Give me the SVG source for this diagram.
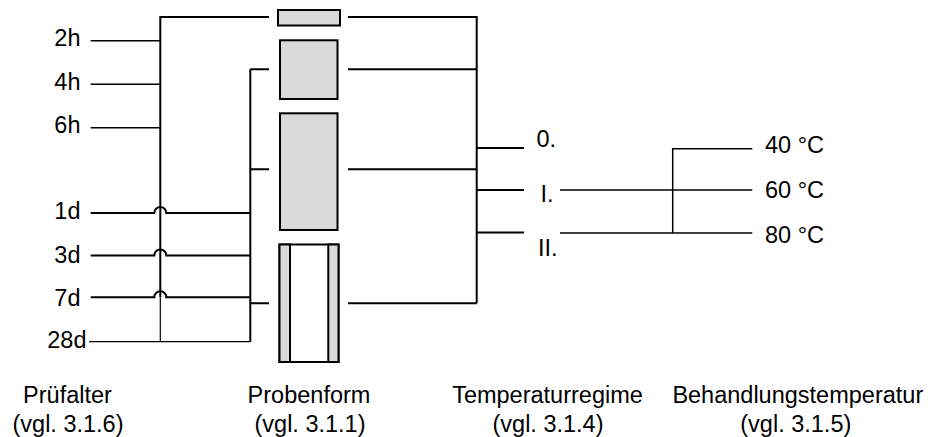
<svg xmlns="http://www.w3.org/2000/svg" width="928" height="437" viewBox="0 0 928 437">
<style>
text{font-family:"Liberation Sans",Arial,sans-serif;font-size:23.5px;fill:#000}
.c{text-anchor:middle}
.e{text-anchor:end}
.k{fill:none;stroke:#000;stroke-width:2}
.m{fill:none;stroke:#000;stroke-width:1.5}
.t{fill:none;stroke:#000;stroke-width:1.2}
.box{fill:#d9d9d9;stroke:#000;stroke-width:2}
.wbox{fill:#fff;stroke:#000;stroke-width:2}
</style>
<rect width="928" height="437" fill="#fff"/>
<g id="connectors">
<path class="k" d="M269,17 H160.3 V297.3"/>
<path class="t" d="M160.3,297.3 V341.7"/>
<path class="m" d="M90.7,40.7 H160.3 M90.7,84.3 H160.3 M90.7,127.7 H160.3"/>
<path class="k" d="M90.7,213 H154.3 A6,6 0 0 1 166.3,213 H250.3"/>
<path class="k" d="M90.7,255.5 H154.3 A6,6 0 0 1 166.3,255.5 H250.3"/>
<path class="k" d="M90.7,297.3 H154.3 A6,6 0 0 1 166.3,297.3 H250.3"/>
<path class="t" d="M89,341.7 H250.3"/>
<path class="k" d="M250.3,69.3 V341.7 M250.3,69.3 H269 M250.3,169.3 H269 M250.3,303.3 H269"/>
<path class="k" d="M348,17 H476.7 V303.3 M348,69.3 H476.7 M348,169.3 H476.7 M348,303.3 H476.7"/>
<path class="k" d="M476.7,148 H524 M476.7,190 H524 M476.7,232.5 H524"/>
<path class="m" d="M560,190 H752.3 M560,233 H752.3 M672.7,233 V148.7 H752.3"/>
</g>
<g id="probe1"><rect class="box" x="278" y="10" width="62" height="15.5"/></g>
<g id="probe2"><rect class="box" x="280" y="40.3" width="57.5" height="58.7"/></g>
<g id="probe3"><rect class="box" x="280" y="113.3" width="57.5" height="116.7"/></g>
<g id="probe4">
<rect class="wbox" x="279.5" y="244.5" width="59" height="117.5"/>
<rect class="box" x="279.5" y="244.5" width="10.5" height="117.5"/>
<rect class="box" x="328.3" y="244.5" width="10.2" height="117.5"/>
</g>
<g id="ages">
<text class="e" x="80.5" y="46">2h</text>
<text class="e" x="80.5" y="90">4h</text>
<text class="e" x="80.5" y="133.3">6h</text>
<text class="e" x="80.5" y="219.3">1d</text>
<text class="e" x="80.5" y="262.5">3d</text>
<text class="e" x="80.5" y="305.5">7d</text>
<text class="e" x="86.5" y="348.3">28d</text>
</g>
<g id="regimes">
<text x="536.5" y="146.5">0.</text>
<text x="540.5" y="201.5">I.</text>
<text x="538" y="256">II.</text>
</g>
<g id="temps">
<text x="765" y="153.3">40 °C</text>
<text x="765" y="198.3">60 °C</text>
<text x="765" y="243.3">80 °C</text>
</g>
<g id="captions">
<text class="c" x="67.5" y="402.7">Prüfalter</text>
<text class="c" x="68" y="431.7">(vgl. 3.1.6)</text>
<text class="c" x="309" y="402.7">Probenform</text>
<text class="c" x="310" y="431.7">(vgl. 3.1.1)</text>
<text class="c" x="547.5" y="402.7">Temperaturregime</text>
<text class="c" x="548" y="431.7">(vgl. 3.1.4)</text>
<text class="c" x="797.8" y="402.7">Behandlungstemperatur</text>
<text class="c" x="795.8" y="431.7">(vgl. 3.1.5)</text>
</g>
</svg>
